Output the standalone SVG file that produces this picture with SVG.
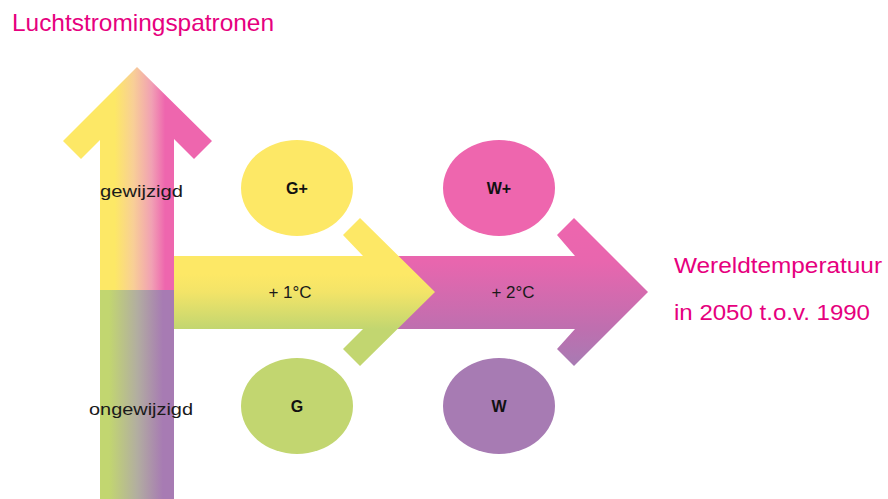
<svg xmlns="http://www.w3.org/2000/svg" width="888" height="499" viewBox="0 0 888 499">
<defs>
<linearGradient id="gTop" x1="0" y1="0" x2="1" y2="0">
<stop offset="0" stop-color="#FDE866"/><stop offset="0.2" stop-color="#FDE866"/><stop offset="0.45" stop-color="#F8CF96"/><stop offset="0.7" stop-color="#F1A0B4"/><stop offset="0.88" stop-color="#EE66AE"/><stop offset="1" stop-color="#EE66AE"/>
</linearGradient>
<linearGradient id="gTopArrow" gradientUnits="userSpaceOnUse" x1="100" y1="0" x2="174" y2="0">
<stop offset="0" stop-color="#FDE866"/><stop offset="0.2" stop-color="#FDE866"/><stop offset="0.45" stop-color="#F8CF96"/><stop offset="0.7" stop-color="#F1A0B4"/><stop offset="0.88" stop-color="#EE66AE"/><stop offset="1" stop-color="#EE66AE"/>
</linearGradient>
<linearGradient id="gBot" x1="0" y1="0" x2="1" y2="0">
<stop offset="0" stop-color="#C2D670"/><stop offset="0.12" stop-color="#C2D670"/><stop offset="0.5" stop-color="#B2AEA0"/><stop offset="0.85" stop-color="#A77BB3"/><stop offset="1" stop-color="#A77BB3"/>
</linearGradient>
<linearGradient id="gYel" gradientUnits="userSpaceOnUse" x1="0" y1="218" x2="0" y2="366">
<stop offset="0" stop-color="#FDE866"/><stop offset="0.38" stop-color="#FDE866"/><stop offset="0.5" stop-color="#F3E468"/><stop offset="0.75" stop-color="#C2D670"/><stop offset="1" stop-color="#C2D670"/>
</linearGradient>
<linearGradient id="gPink" gradientUnits="userSpaceOnUse" x1="0" y1="218" x2="0" y2="366">
<stop offset="0" stop-color="#EE66AE"/><stop offset="0.3" stop-color="#E866AE"/><stop offset="0.75" stop-color="#BE6FAF"/><stop offset="1" stop-color="#A77BB3"/>
</linearGradient>
<style>
.lbl{font-family:"Liberation Sans","DejaVu Sans",sans-serif;fill:#1a1a1a;font-size:17px;}
.bold{font-family:"Liberation Sans","DejaVu Sans",sans-serif;fill:#111;font-size:16px;font-weight:bold;text-anchor:middle;}
.title{font-family:"Liberation Sans","DejaVu Sans",sans-serif;fill:#E6007E;}
</style>
</defs>
<rect width="888" height="499" fill="#fff"/>
<text class="title" x="12" y="31" font-size="24" textLength="262" lengthAdjust="spacingAndGlyphs">Luchtstromingspatronen</text>

<g id="connectors">
<g id="arrow-vertical">
<path d="M137,67 L212,141 L194,159 L174,139 L174,290 L100,290 L100,140 L81,159 L63,141 Z" fill="url(#gTopArrow)"/>
<rect x="100" y="290" width="74" height="209" fill="url(#gBot)"/>
</g>
<g id="arrow-w">
<path d="M380,256 L575,256 L557,235 L574,218 L648,292 L574,366 L557,349 L575,329 L380,329 Z" fill="url(#gPink)"/>
</g>
<g id="arrow-g">
<path d="M174,256 L363,256 L343,235 L360,218 L435,292 L360,366 L343,349 L363,329 L174,329 Z" fill="url(#gYel)"/>
</g>
</g>

<text class="lbl" x="100" y="197" textLength="83" lengthAdjust="spacingAndGlyphs">gewijzigd</text>
<text class="lbl" x="89" y="415" textLength="104" lengthAdjust="spacingAndGlyphs">ongewijzigd</text>
<text class="lbl" x="290" y="298" text-anchor="middle" font-size="16">+ 1°C</text>
<text class="lbl" x="513" y="298" text-anchor="middle" font-size="16">+ 2°C</text>

<g id="node-gplus"><ellipse cx="297" cy="188" rx="56" ry="48" fill="#FDE866"/><text class="bold" x="297" y="194">G+</text></g>
<g id="node-wplus"><ellipse cx="499" cy="188" rx="56" ry="48" fill="#EE66AE"/><text class="bold" x="499" y="194">W+</text></g>
<g id="node-g"><ellipse cx="297" cy="406" rx="56" ry="48" fill="#C2D670"/><text class="bold" x="297" y="412">G</text></g>
<g id="node-w"><ellipse cx="499" cy="406" rx="56" ry="48" fill="#A77BB3"/><text class="bold" x="499" y="412">W</text></g>

<text class="title" x="674" y="273" font-size="22" textLength="208" lengthAdjust="spacingAndGlyphs">Wereldtemperatuur</text>
<text class="title" x="674" y="320" font-size="22" textLength="196" lengthAdjust="spacingAndGlyphs">in 2050 t.o.v. 1990</text>
</svg>
